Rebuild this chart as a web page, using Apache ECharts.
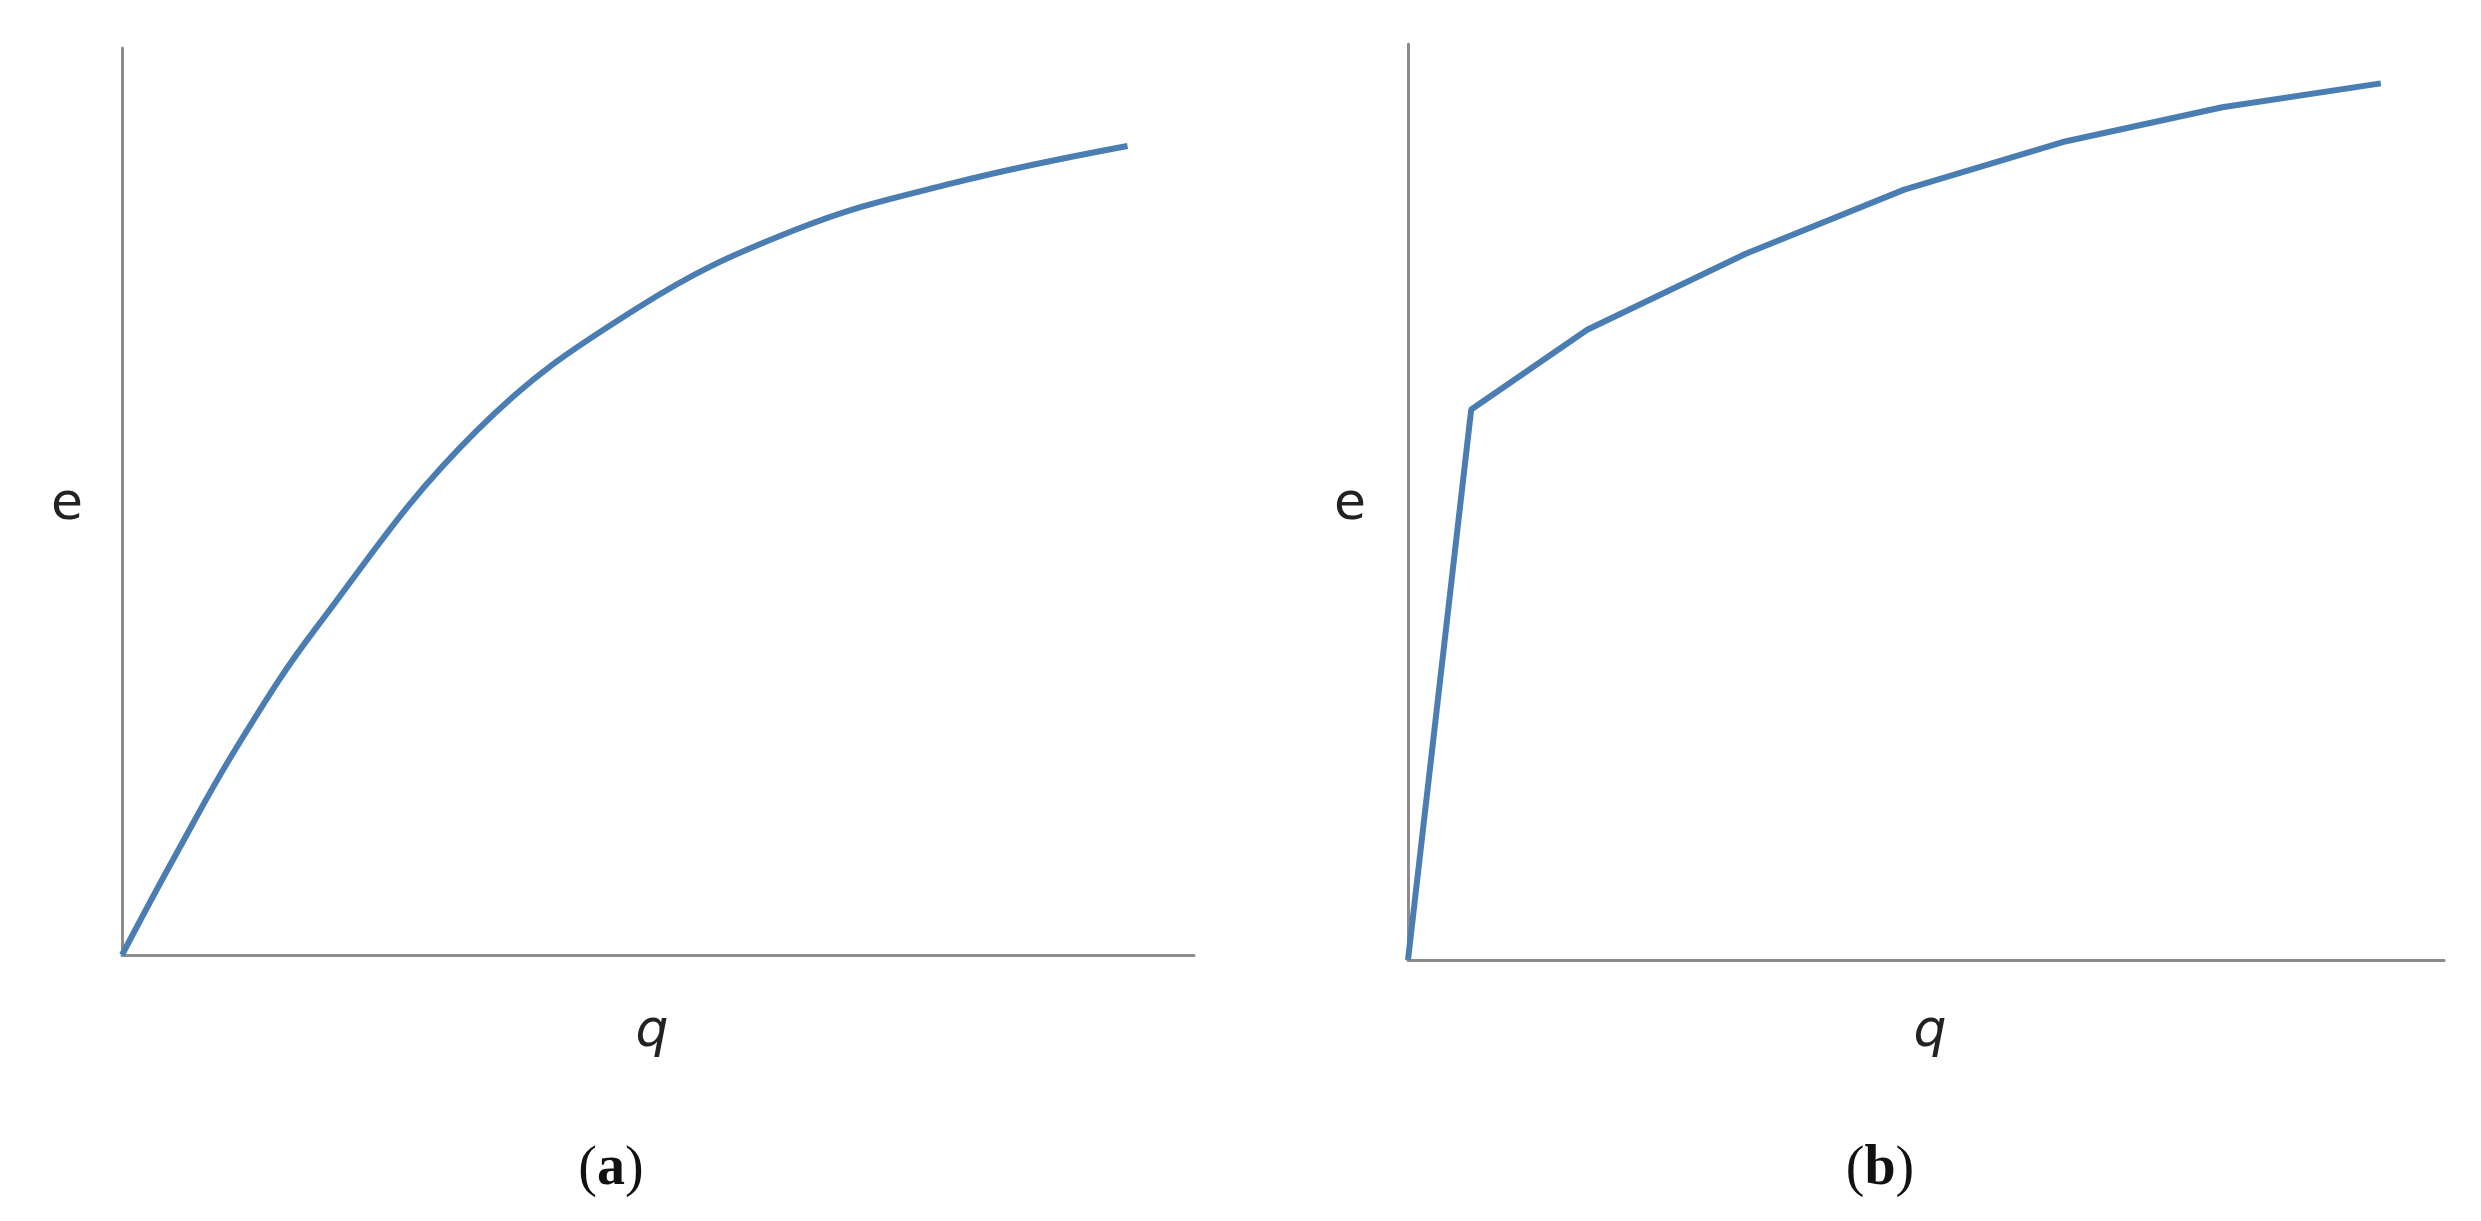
<!DOCTYPE html>
<html>
<head>
<meta charset="utf-8">
<script src="https://cdn.jsdelivr.net/npm/echarts@6/dist/echarts.min.js"></script>
<style>html,body{margin:0;padding:0;background:#fff}#chart{width:2481px;height:1221px}</style>
</head>
<body>
<div id="chart"></div>
<script>
// panel (a): smooth curve through origin
var qA = [0, 4.9, 10.8, 18.2, 33.0, 47.9, 62.7, 77.5, 93.8];
var eA = [0, 10.8, 23.1, 36.2, 57.7, 71.2, 79.9, 85.1, 89.2];
// panel (b): steep straight rise then curve
var qB = [0, 6.1, 17.3, 32.6, 47.9, 63.2, 78.6, 93.9];
var eB = [0, 60.1, 68.8, 77.1, 84.1, 89.3, 93.1, 95.7];

function pairs(xs, ys) {
    return xs.map(function (x, i) { return [x, ys[i]]; });
}

var lineColor = '#4a7eb3';
var axisStyle = {lineStyle: {color: '#8c8c8c', width: 3}};
function xAxisFor(idx) {
    return {gridIndex: idx, type: 'value', min: 0, max: 100, axisLine: axisStyle,
        axisTick: {show: false}, axisLabel: {show: false}, splitLine: {show: false}};
}
function yAxisFor(idx) {
    return {gridIndex: idx, type: 'value', min: 0, max: 100, axisLine: {show: true, lineStyle: axisStyle.lineStyle},
        axisTick: {show: false}, axisLabel: {show: false}, splitLine: {show: false}};
}
var labelFont = {fontFamily: 'DejaVu Sans', fontSize: 52, fill: '#222'};
function txt(x, y, s, extra) {
    return Object.assign({type: 'text', x: x, y: y, style: Object.assign({text: s, textAlign: 'center', textVerticalAlign: 'middle'}, labelFont, extra || {})});
}

var chart = echarts.init(document.getElementById('chart'));
chart.setOption({
    animation: false,
    grid: [
        {left: 122, right: 1287, top: 48, bottom: 266},
        {left: 1408, right: 37, top: 44, bottom: 261}
    ],
    xAxis: [xAxisFor(0), xAxisFor(1)],
    yAxis: [yAxisFor(0), yAxisFor(1)],
    series: [
        {type: 'line', xAxisIndex: 0, yAxisIndex: 0, data: pairs(qA, eA), smooth: 0.4,
            showSymbol: false, lineStyle: {color: lineColor, width: 6}},
        {type: 'line', xAxisIndex: 1, yAxisIndex: 1, data: pairs(qB, eB), smooth: false,
            showSymbol: false, lineStyle: {color: lineColor, width: 6}}
    ],
    graphic: [
        txt(67, 505, 'e', {}), 
        txt(1350, 505, 'e', {}),
        txt(652, 1032, 'q', {fontStyle: 'italic'}),
        txt(1930, 1032, 'q', {fontStyle: 'italic'}),
        {type: 'text', x: 611, y: 1170, style: {rich: {b: {fontWeight: 'bold', fontFamily: 'Liberation Serif', fontSize: 56, fill: '#111'}},
            text: '({b|a})', fontFamily: 'Liberation Serif', fontSize: 56, fill: '#111', textAlign: 'center', textVerticalAlign: 'middle'}},
        {type: 'text', x: 1880, y: 1170, style: {rich: {b: {fontWeight: 'bold', fontFamily: 'Liberation Serif', fontSize: 56, fill: '#111'}},
            text: '({b|b})', fontFamily: 'Liberation Serif', fontSize: 56, fill: '#111', textAlign: 'center', textVerticalAlign: 'middle'}}
    ]
});
</script>
</body>
</html>
